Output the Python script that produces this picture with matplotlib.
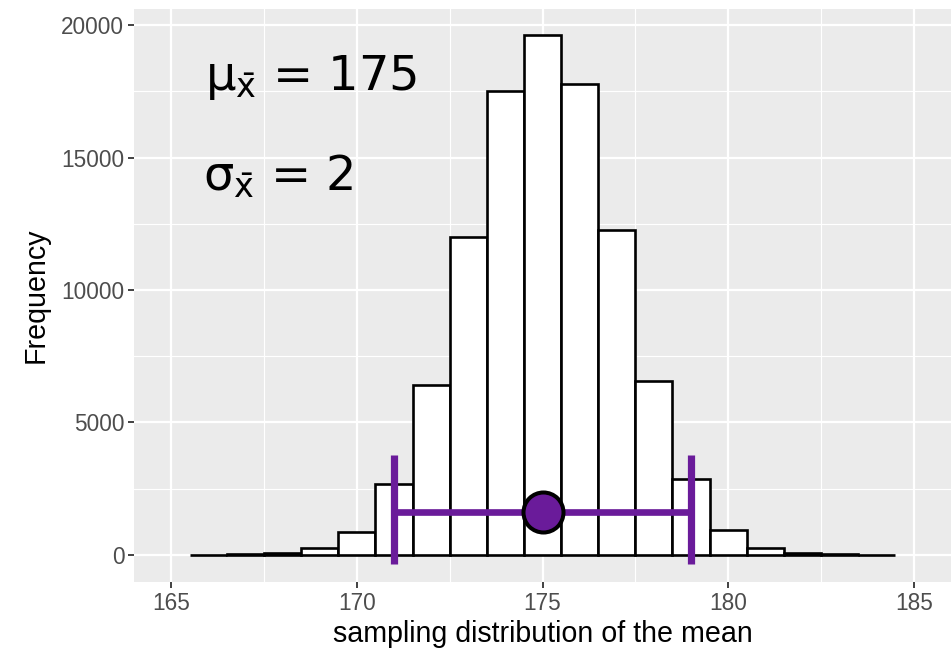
import matplotlib
matplotlib.use("Agg")
import matplotlib.pyplot as plt
from matplotlib.ticker import MultipleLocator

# Data
bin_centers = [166, 167, 168, 169, 170, 171, 172, 173, 174, 175,
               176, 177, 178, 179, 180, 181, 182, 183, 184]
counts = [5, 25, 60, 250, 880, 2667, 6400, 12011, 17521, 19623,
          17762, 12252, 6550, 2855, 943, 250, 60, 25, 5]
mean_val = 175
sd_val = 2
err_y = 1620
cap_low, cap_high = -340, 3770
x_ticks = [165, 170, 175, 180, 185]
y_ticks = [0, 5000, 10000, 15000, 20000]

purple = "#6a1b9a"

fig = plt.figure(figsize=(9.53, 6.51), dpi=100)
ax = fig.add_axes([134/953, 1 - 582/651, (951-134)/953, (582-9)/651])
ax.set_facecolor("#EBEBEB")
for s in ax.spines.values():
    s.set_visible(False)

ax.set_xlim(164, 186)
ax.set_ylim(-1019, 20604)
ax.set_xticks(x_ticks)
ax.set_yticks(y_ticks)
ax.xaxis.set_minor_locator(MultipleLocator(2.5))
ax.yaxis.set_minor_locator(MultipleLocator(2500))
ax.grid(which="major", color="white", linewidth=1.6)
ax.grid(which="minor", color="white", linewidth=0.8)
ax.set_axisbelow(True)
ax.tick_params(which="major", length=4, width=1.3, color="#333333",
               labelcolor="#4D4D4D", labelsize=16.3, pad=3)
ax.tick_params(which="minor", length=0)

ax.bar(bin_centers, counts, width=1.0, color="white", edgecolor="black",
       linewidth=1.9, zorder=2)

# error bar
ax.plot([mean_val - 2*sd_val, mean_val + 2*sd_val], [err_y, err_y],
        color=purple, linewidth=4.8, solid_capstyle="butt", zorder=3)
for xv in [mean_val - 2*sd_val, mean_val + 2*sd_val]:
    ax.plot([xv, xv], [cap_low, cap_high], color=purple, linewidth=5.2,
            solid_capstyle="butt", zorder=3)
ax.plot([mean_val], [err_y], marker="o", markersize=28.8,
        markerfacecolor=purple, markeredgecolor="black",
        markeredgewidth=2.9, zorder=4)

ax.text(165.92, 17547, "μ" + r"$_{\bar{\mathrm{x}}}$" + " = " + str(mean_val),
        fontsize=34.5, family="DejaVu Sans", ha="left", va="baseline", color="black")
ax.text(165.85, 13774, "σ" + r"$_{\bar{\mathrm{x}}}$" + " = " + str(sd_val),
        fontsize=34.5, family="DejaVu Sans", ha="left", va="baseline", color="black")

for lab in ax.get_xticklabels() + ax.get_yticklabels():
    lab.set_family(["Liberation Sans", "DejaVu Sans"])

ax.set_xlabel("sampling distribution of the mean", fontsize=20.6,
              family=["Liberation Sans", "DejaVu Sans"], labelpad=4)
ax.set_ylabel("Frequency", fontsize=20.6,
              family=["Liberation Sans", "DejaVu Sans"], labelpad=8)

fig.savefig("out.png", dpi=100)
